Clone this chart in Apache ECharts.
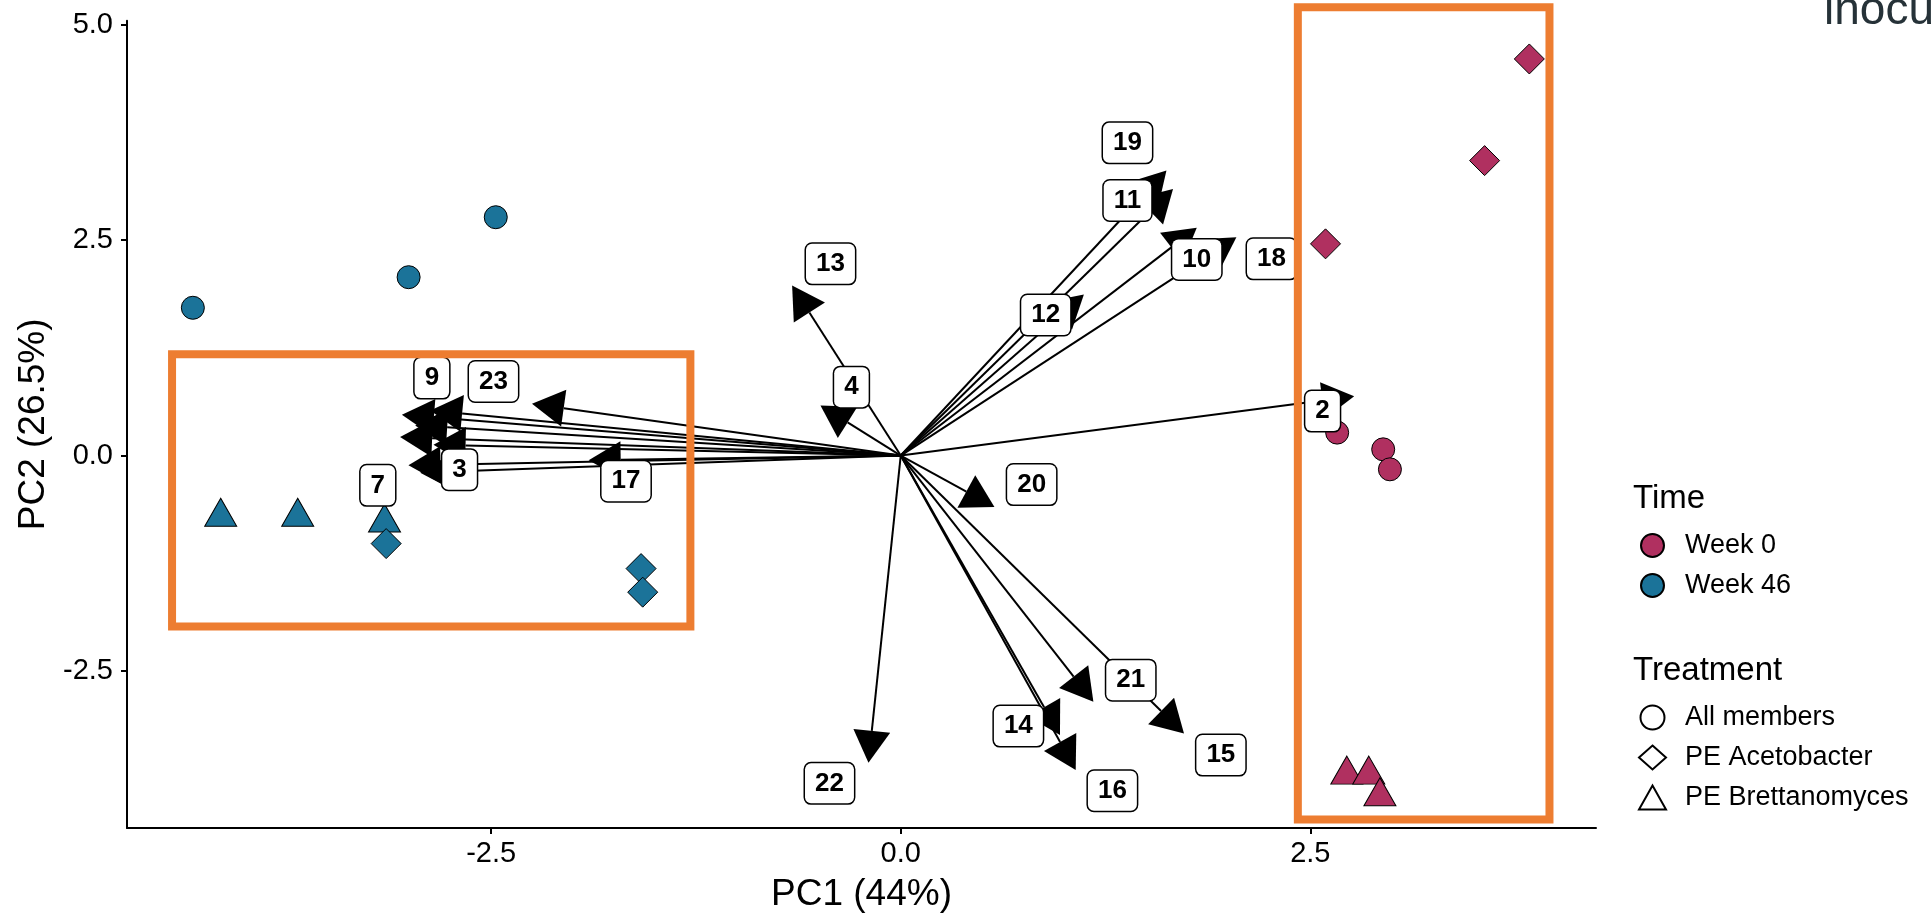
<!DOCTYPE html>
<html>
<head>
<meta charset="utf-8">
<script src="https://cdn.jsdelivr.net/npm/echarts@6/dist/echarts.min.js"></script>
<style>
html,body{margin:0;padding:0;background:#fff;}
#chart{width:1932px;height:914px;}
</style>
</head>
<body>
<div id="chart"></div>
<script>
// ---------- sample scores ----------
const pointPC1 = [-4.321, -3.004, -2.472, -4.151, -3.681, -3.151, -3.141, -1.585, -1.575,
                  3.837, 3.564, 2.593, 2.664, 2.945, 2.986, 2.723, 2.857, 2.925];
const pointPC2 = [1.715, 2.070, 2.766, -0.659, -0.659, -0.725, -1.022, -1.312, -1.586,
                  4.603, 3.423, 2.457, 0.266, 0.072, -0.160, -3.651, -3.651, -3.902];
const pointTime = ['Week 46','Week 46','Week 46','Week 46','Week 46','Week 46','Week 46','Week 46','Week 46',
                   'Week 0','Week 0','Week 0','Week 0','Week 0','Week 0','Week 0','Week 0','Week 0'];
const pointTreatment = ['All members','All members','All members','PE Brettanomyces','PE Brettanomyces','PE Brettanomyces','PE Acetobacter','PE Acetobacter','PE Acetobacter',
                        'PE Acetobacter','PE Acetobacter','PE Acetobacter','All members','All members','All members','PE Brettanomyces','PE Brettanomyces','PE Brettanomyces'];

// ---------- loading arrows (tips) ----------
const arrowIds = ['1','2','3','4','5','6','7','8','9','10','11','12','13','14','15','16','17','18','19','20','21','22','23'];
const arrowPC1 = [-3.056, 2.768, -3.005, -0.490, -2.852, -2.964, -2.933, -2.251, -3.045, 1.807, 1.662, 1.118, -0.663, 0.972, 1.729, 1.068, -1.905, 2.049, 1.622, 0.572, 1.176, -0.197, -2.872];
const arrowPC2 = [0.215, 0.687, -0.114, 0.582, 0.126, 0.350, -0.200, 0.602, 0.474, 2.643, 3.095, 1.869, 1.974, -3.245, -3.225, -3.651, -0.056, 2.534, 3.307, -0.597, -2.859, -3.566, 0.524];

// ---------- repelled label positions ----------
const labelText = ['2','3','4','7','9','10','11','12','13','14','15','16','17','18','19','20','21','22','23'];
const labelPC1 = [2.575, -2.693, -0.301, -3.192, -2.862, 1.807, 1.384, 0.885, -0.429, 0.718, 1.954, 1.292, -1.677, 2.263, 1.384, 0.799, 1.404, -0.435, -2.486];
const labelPC2 = [0.516, -0.164, 0.794, -0.346, 0.899, 2.275, 2.960, 1.631, 2.225, -3.140, -3.477, -3.891, -0.299, 2.283, 3.629, -0.337, -2.607, -3.805, 0.860];

// ---------- highlight boxes [x1, y1, x2, y2] ----------
const boxLeft = [-4.448, 1.177, -1.284, -1.984];
const boxRight = [2.424, 5.203, 3.960, -4.224];

// ---------- axes ----------
const xTicks = [-2.5, 0, 2.5];
const yTicks = [-2.5, 0, 2.5, 5.0];
const timeLevels = ['Week 0', 'Week 46'];
const timeColors = ['#B03060', '#1B7399'];
const treatmentLevels = ['All members', 'PE Acetobacter', 'PE Brettanomyces'];
const treatmentSymbols = ['circle', 'diamond', 'triangle'];
const treatmentSizes = [[23, 23], [30, 30], [32, 28]];

const FONT = 'Liberation Sans, Arial, sans-serif';
const chart = echarts.init(document.getElementById('chart'), null, {renderer: 'canvas'});

const pointSeries = timeLevels.map((t, ti) => ({
  name: t,
  type: 'scatter',
  z: 2,
  silent: true,
  symbol: 'circle',
  itemStyle: {color: timeColors[ti], borderColor: '#000', borderWidth: 1, opacity: 1},
  data: pointPC1.map((x, i) => ({i, x})).filter(o => pointTime[o.i] === t).map(o => {
    const k = treatmentLevels.indexOf(pointTreatment[o.i]);
    return {value: [pointPC1[o.i], pointPC2[o.i]], symbol: treatmentSymbols[k], symbolSize: treatmentSizes[k]};
  })
}));

const shapeSeries = treatmentLevels.map((t, k) => ({
  name: t,
  type: 'scatter',
  symbol: treatmentSymbols[k],
  itemStyle: {color: '#fff', borderColor: '#000', borderWidth: 1.2, opacity: 1},
  data: []
}));

const arrowSeries = {
  type: 'custom',
  z: 3,
  silent: true,
  data: arrowIds.map((id, i) => [arrowPC1[i], arrowPC2[i]]),
  renderItem: (params, api) => {
    const o = api.coord([0, 0]);
    const t = api.coord([api.value(0), api.value(1)]);
    const dx = t[0] - o[0], dy = t[1] - o[1];
    const len = Math.hypot(dx, dy);
    const ux = dx / len, uy = dy / len;
    const side = 37, depth = side * Math.sqrt(3) / 2;
    const bx = t[0] - ux * depth, by = t[1] - uy * depth;
    const px = -uy, py = ux;
    return {type: 'group', children: [
      {type: 'line', shape: {x1: o[0], y1: o[1], x2: bx, y2: by}, style: {stroke: '#000', lineWidth: 2}},
      {type: 'polygon', shape: {points: [[t[0], t[1]], [bx + px * side / 2, by + py * side / 2], [bx - px * side / 2, by - py * side / 2]]}, style: {fill: '#000'}}
    ]};
  }
};

const labelSeries = {
  type: 'custom',
  z: 4,
  silent: true,
  data: labelText.map((s, i) => [labelPC1[i], labelPC2[i], s]),
  renderItem: (params, api) => {
    const p = api.coord([api.value(0), api.value(1)]);
    return {type: 'text', x: p[0], y: p[1], style: {
      text: labelText[params.dataIndex], fontFamily: FONT, fontSize: 26, fontWeight: 'bold', fill: '#000',
      align: 'center', verticalAlign: 'middle', backgroundColor: '#fff', borderColor: '#000', borderWidth: 1.5,
      borderRadius: 6, padding: [7, 10]
    }};
  }
};

const boxSeries = {
  type: 'custom',
  z: 5,
  silent: true,
  clip: false,
  data: [boxLeft, boxRight],
  renderItem: (params, api) => {
    const a = api.coord([api.value(0), api.value(1)]);
    const b = api.coord([api.value(2), api.value(3)]);
    return {type: 'rect', shape: {x: a[0], y: a[1], width: b[0] - a[0], height: b[1] - a[1]},
      style: {fill: 'none', stroke: '#ED7D31', lineWidth: 8}};
  }
};

const option = {
  backgroundColor: '#fff',
  animation: false,
  grid: {left: 127, right: 336, top: 20.7, bottom: 86, containLabel: false, outerBoundsMode: 'none'},
  xAxis: {
    type: 'value', min: -4.723, max: 4.244,
    name: 'PC1 (44%)', nameLocation: 'middle', nameGap: 48,
    nameTextStyle: {fontFamily: FONT, fontSize: 37, color: '#000'},
    splitLine: {show: false},
    axisLine: {show: true, onZero: false, lineStyle: {color: '#000', width: 2}},
    axisTick: {show: true, length: 6, lineStyle: {color: '#000', width: 2}, customValues: xTicks},
    axisLabel: {fontFamily: FONT, fontSize: 29, color: '#000', margin: 11, customValues: xTicks,
      formatter: v => v.toFixed(1)}
  },
  yAxis: {
    type: 'value', min: -4.323, max: 5.047,
    name: 'PC2 (26.5%)', nameLocation: 'middle', nameGap: 68, nameRotate: 90,
    nameTextStyle: {fontFamily: FONT, fontSize: 37, color: '#000'},
    splitLine: {show: false},
    axisLine: {show: true, onZero: false, lineStyle: {color: '#000', width: 2}},
    axisTick: {show: true, length: 6, lineStyle: {color: '#000', width: 2}, customValues: yTicks},
    axisLabel: {fontFamily: FONT, fontSize: 29, color: '#000', margin: 14, customValues: yTicks,
      formatter: v => v.toFixed(1)}
  },
  legend: [
    {
      orient: 'vertical', left: 1640, top: 532, padding: 0, itemGap: 13,
      itemWidth: 23, itemHeight: 23, selectedMode: false,
      textStyle: {fontFamily: FONT, fontSize: 27, color: '#000', padding: [0, 0, 0, 16]},
      data: timeLevels.map(t => ({name: t, icon: 'circle'}))
    },
    {
      orient: 'vertical', left: 1638, top: 704, padding: 0, itemGap: 13,
      itemWidth: 27, itemHeight: 24, selectedMode: false,
      textStyle: {fontFamily: FONT, fontSize: 27, color: '#000', padding: [0, 0, 0, 14]},
      data: treatmentLevels.map((t, k) => ({name: t, icon: treatmentSymbols[k]}))
    }
  ],
  graphic: [
    {type: 'text', left: 1633, top: 482, style: {text: 'Time', fontFamily: FONT, fontSize: 33, fill: '#000'}},
    {type: 'text', left: 1633, top: 654, style: {text: 'Treatment', fontFamily: FONT, fontSize: 33, fill: '#000'}},
    {type: 'text', left: 1824, top: -12, style: {text: 'inoculated', fontFamily: FONT, fontSize: 46, fill: '#263238'}}
  ],
  series: [...pointSeries, ...shapeSeries, arrowSeries, labelSeries, boxSeries]
};
chart.setOption(option);
</script>
</body>
</html>
